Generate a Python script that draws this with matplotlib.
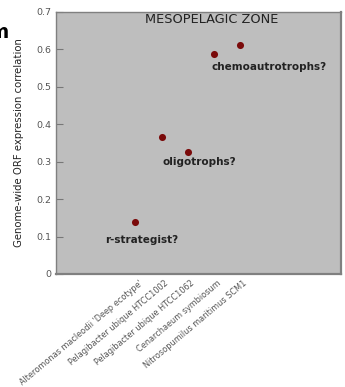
import matplotlib
matplotlib.use("Agg")
import matplotlib.pyplot as plt
import matplotlib.transforms as mtransforms

# Data
genomes = [
    "Alteromonas macleodii 'Deep ecotype'",
    "Pelagibacter ubique HTCC1002",
    "Pelagibacter ubique HTCC1062",
    "Cenarchaeum symbiosum",
    "Nitrosopumilus maritimus SCM1",
]
correlation = [0.139, 0.366, 0.326, 0.588, 0.612]
y_ticks = [0, 0.1, 0.2, 0.3, 0.4, 0.5, 0.6, 0.7]
y_tick_labels = ["0", "0.1", "0.2", "0.3", "0.4", "0.5", "0.6", "0.7"]

# group labels: (text, x index, y value)
groups = [
    ("chemoautrotrophs?", 2.93, 0.553),
    ("oligotrophs?", 1.05, 0.300),
    ("r-strategist?", -1.17, 0.091),
]

fig = plt.figure(figsize=(3.45, 3.87), dpi=100)
ax = fig.add_axes([0.162, 0.292, 0.826, 0.677])
ax.set_facecolor("#bebebe")

x = list(range(len(genomes)))
ax.scatter(x, correlation, s=26, color="#7a0a0a", zorder=3, linewidths=0)

ax.set_xlim(-3.05, 7.87)
ax.set_ylim(0, 0.7)
ax.set_yticks(y_ticks)
ax.set_yticklabels(y_tick_labels, fontsize=6.8, color="#555555")
ax.tick_params(axis="y", direction="in", length=5, color="#777777", pad=3)

ax.set_xticks(x)
ax.set_xticklabels(genomes, rotation=40, ha="right", va="center",
                   rotation_mode="anchor", fontsize=5.9, color="#555555")
ax.tick_params(axis="x", length=0, pad=6)
shift = mtransforms.ScaledTranslation(0.06, 0, fig.dpi_scale_trans)
for lbl in ax.get_xticklabels():
    lbl.set_transform(lbl.get_transform() + shift)

for s in ax.spines.values():
    s.set_color("#808080")
    s.set_linewidth(1.0)
ax.spines["right"].set_linewidth(1.6)
ax.spines["bottom"].set_linewidth(1.6)

ax.set_ylabel("Genome-wide ORF expression correlation", fontsize=7.3,
              color="#222222", labelpad=9)

ax.text(2.92, 0.679, "MESOPELAGIC ZONE", ha="center", va="center",
        fontsize=9.3, color="#222222")
for label, gx, gy in groups:
    ax.text(gx, gy, label, ha="left", va="center", fontsize=7.5,
            fontweight="bold", color="#222222")

# cropped panel letter at the left edge
fig.text(9 / 345, 1 - 32 / 387, "m", ha="right", va="center",
         fontsize=14, fontweight="bold", color="black")

fig.savefig("out.png", dpi=100, facecolor="white")
